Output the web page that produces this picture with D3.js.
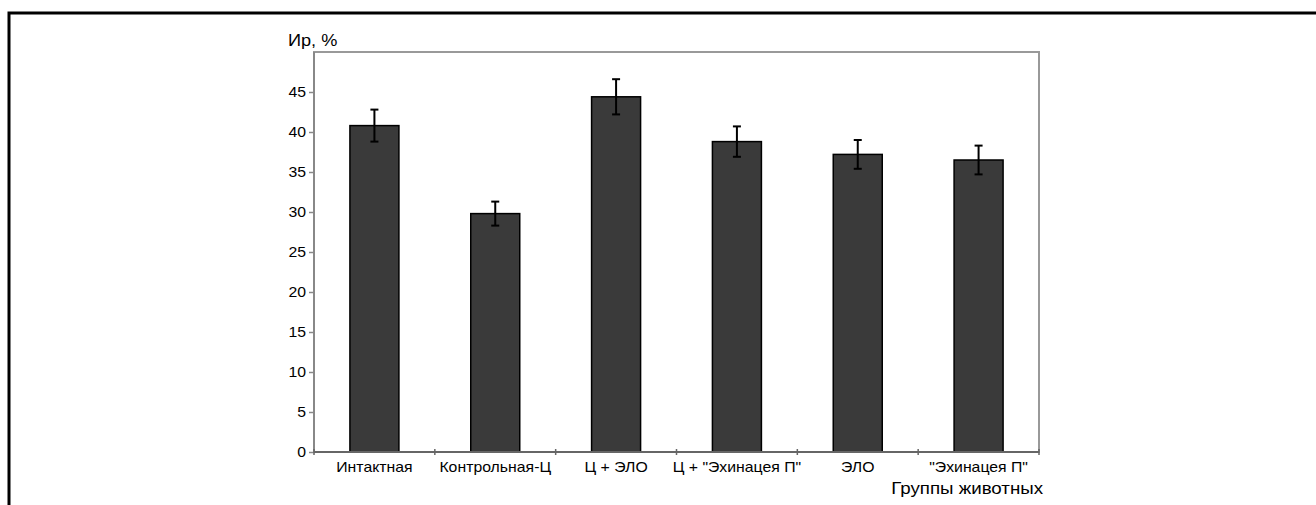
<!DOCTYPE html>
<html>
<head>
<meta charset="utf-8">
<script src="https://cdn.jsdelivr.net/npm/d3@7"></script>
<style>
  body { margin: 0; background: #fff; }
  text { font-family: "Liberation Sans", Arial, sans-serif; fill: #000; }
</style>
</head>
<body>
<div id="chart"></div>
<script>
const width = 1316;
const height = 505;

const groups = ["Интактная", "Контрольная-Ц", "Ц + ЭЛО", "Ц + \"Эхинацея П\"", "ЭЛО", "\"Эхинацея П\""];
const values = [40.8, 29.8, 44.4, 38.8, 37.2, 36.5];
const errors = [2.0, 1.5, 2.2, 1.9, 1.8, 1.8];
const yTicks = [0, 5, 10, 15, 20, 25, 30, 35, 40, 45];

const plot = { left: 314, right: 1039, top: 52, bottom: 452 };
const stretch = 1.13; // the source text is a little wider than Arial

const svg = d3.select("#chart")
    .append("svg")
    .attr("width", width)
    .attr("height", height);

// outer frame (only top and left edges visible)
svg.append("path")
    .attr("d", `M9,${height} L9,13 L${width},13`)
    .attr("fill", "none")
    .attr("stroke", "#000")
    .attr("stroke-width", 3);

const x = d3.scaleBand()
    .domain(groups)
    .range([plot.left, plot.right])
    .paddingInner(0)
    .paddingOuter(0);

const y = d3.scaleLinear()
    .domain([0, 50])
    .range([plot.bottom, plot.top]);

// plot frame
svg.append("rect")
    .attr("x", plot.left)
    .attr("y", plot.top)
    .attr("width", plot.right - plot.left)
    .attr("height", plot.bottom - plot.top)
    .attr("fill", "none")
    .attr("stroke", "#999")
    .attr("stroke-width", 2);

// bars
const barW = 49;
svg.selectAll(".bar")
    .data(values)
    .enter().append("rect")
    .attr("class", "bar")
    .attr("x", (d, i) => x(groups[i]) + x.bandwidth() / 2 - barW / 2)
    .attr("y", d => y(d))
    .attr("width", barW)
    .attr("height", d => y(0) - y(d))
    .attr("fill", "#3a3a3a")
    .attr("stroke", "#000")
    .attr("stroke-width", 1.5);

// error bars
const eb = svg.selectAll(".err")
    .data(values)
    .enter().append("g")
    .attr("class", "err")
    .attr("stroke", "#000")
    .attr("stroke-width", 2);

const cx = i => x(groups[i]) + x.bandwidth() / 2;

eb.append("line")
    .attr("x1", (d, i) => cx(i))
    .attr("x2", (d, i) => cx(i))
    .attr("y1", (d, i) => y(d + errors[i]))
    .attr("y2", (d, i) => y(d - errors[i]));

eb.append("line")
    .attr("x1", (d, i) => cx(i) - 4)
    .attr("x2", (d, i) => cx(i) + 4)
    .attr("y1", (d, i) => y(d + errors[i]))
    .attr("y2", (d, i) => y(d + errors[i]));

eb.append("line")
    .attr("x1", (d, i) => cx(i) - 4)
    .attr("x2", (d, i) => cx(i) + 4)
    .attr("y1", (d, i) => y(d - errors[i]))
    .attr("y2", (d, i) => y(d - errors[i]));

// y axis
const yAxis = svg.append("g")
    .attr("transform", `translate(${plot.left},0)`)
    .call(d3.axisLeft(y).tickValues(yTicks).tickSize(5).tickPadding(2));
yAxis.select(".domain").remove();
yAxis.selectAll(".tick line").attr("stroke", "#888").attr("stroke-width", 1.5).attr("x2", -5).attr("x1", 1);
yAxis.selectAll(".tick text")
    .attr("font-size", 14)
    .attr("font-family", "Liberation Sans, Arial, sans-serif")
    .attr("transform", `scale(${stretch},1)`);

svg.append("line")
    .attr("x1", plot.left).attr("x2", plot.left)
    .attr("y1", plot.top).attr("y2", plot.bottom)
    .attr("stroke", "#888").attr("stroke-width", 2);

// x axis
const xAxis = svg.append("g")
    .attr("transform", `translate(0,${plot.bottom})`)
    .call(d3.axisBottom(x).tickSize(0).tickPadding(10));
xAxis.select(".domain").remove();
xAxis.selectAll(".tick text")
    .attr("font-size", 14)
    .attr("font-family", "Liberation Sans, Arial, sans-serif")
    .attr("transform", `scale(${stretch},1)`);

svg.append("line")
    .attr("x1", plot.left).attr("x2", plot.right)
    .attr("y1", plot.bottom).attr("y2", plot.bottom)
    .attr("stroke", "#666").attr("stroke-width", 2);

// boundary ticks between groups
const bounds = groups.map(g => x(g)).concat([plot.right]);
svg.selectAll(".xsep")
    .data(bounds)
    .enter().append("line")
    .attr("x1", d => d).attr("x2", d => d)
    .attr("y1", plot.bottom - 3).attr("y2", plot.bottom + 3)
    .attr("stroke", "#666").attr("stroke-width", 1.5);

// axis titles
svg.append("g")
    .attr("transform", `translate(288,46) scale(1.1,1)`)
    .append("text")
    .attr("font-size", 16.5)
    .text("Ир, %");

svg.append("g")
    .attr("transform", `translate(1043,494) scale(1.1,1)`)
    .append("text")
    .attr("text-anchor", "end")
    .attr("font-size", 17)
    .text("Группы животных");
</script>
</body>
</html>
